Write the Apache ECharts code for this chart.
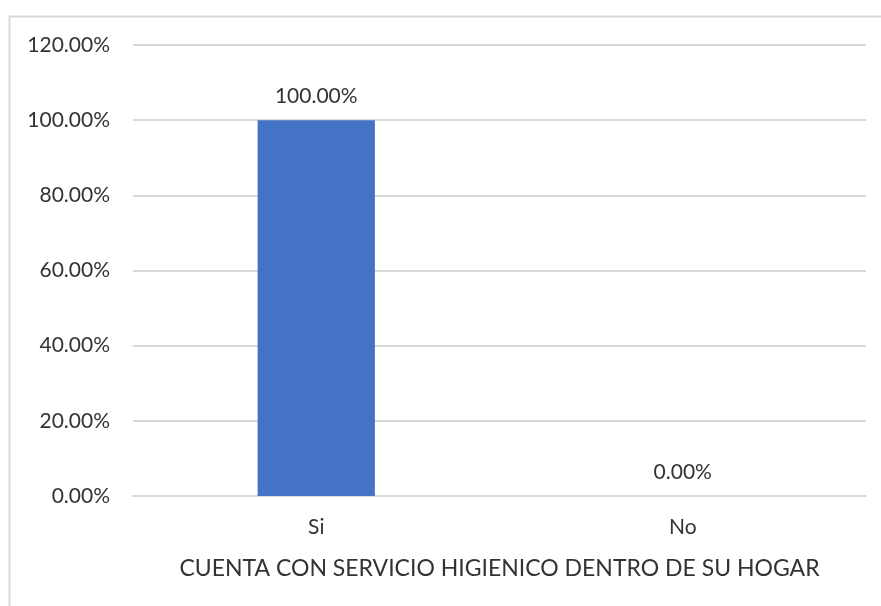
<!DOCTYPE html>
<html>
<head>
<meta charset="utf-8">
<script src="https://cdn.jsdelivr.net/npm/echarts@6/dist/echarts.min.js"></script>
<style>
	html, body { margin: 0; padding: 0; background: #ffffff; }
	#main { width: 881px; height: 606px; }
</style>
</head>
<body>
<div id="main"></div>
<script>
	// datos
	var categorias = ['Si', 'No'];
	var valores = [100, 0];
	var ejeNombre = 'CUENTA CON SERVICIO HIGIENICO DENTRO DE SU HOGAR';

	var fuente = 'Lato, "Open Sans", sans-serif';
	var colorTexto = '#333333';

	var chart = echarts.init(document.getElementById('main'));

	var option = {
		animation: false,
		graphic: [{
			type: 'rect',
			shape: { x: 9.5, y: 16.5, width: 1000, height: 1000 },
			style: { fill: 'none', stroke: '#d9d9d9', lineWidth: 2 },
			silent: true
		}],
		grid: {
			left: 133,
			right: 15,
			top: 45,
			bottom: 110
		},
		xAxis: {
			type: 'category',
			data: categorias,
			name: ejeNombre,
			nameLocation: 'middle',
			nameGap: 61,
			nameTextStyle: { color: colorTexto, fontSize: 23, fontFamily: fuente },
			axisLine: { show: true, lineStyle: { color: '#d9d9d9', width: 2 } },
			axisTick: { show: false },
			axisLabel: { color: colorTexto, fontSize: 21, fontFamily: fuente, margin: 21 }
		},
		yAxis: {
			type: 'value',
			min: 0,
			max: 120,
			interval: 20,
			axisLine: { show: false },
			axisTick: { show: false },
			splitLine: { lineStyle: { color: '#d9d9d9', width: 2 } },
			axisLabel: {
				color: colorTexto,
				fontSize: 21,
				fontFamily: fuente,
				margin: 23,
				formatter: function (v) { return v.toFixed(2) + '%'; }
			}
		},
		series: [{
			type: 'bar',
			data: valores,
			barWidth: '32%',
			itemStyle: { color: '#4472C4' },
			label: {
				show: true,
				position: 'top',
				distance: 13,
				color: colorTexto,
				fontSize: 21,
				fontFamily: fuente,
				formatter: function (p) { return p.value.toFixed(2) + '%'; }
			}
		}]
	};

	chart.setOption(option);
</script>
</body>
</html>
